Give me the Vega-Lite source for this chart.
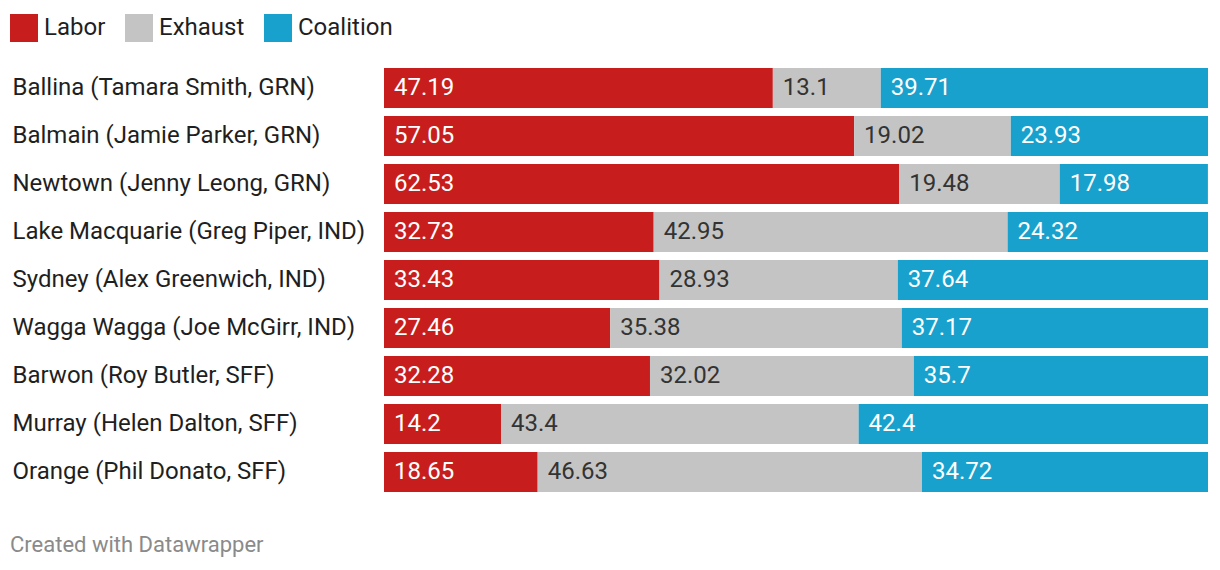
{
  "$schema": "https://vega.github.io/schema/vega-lite/v6.json",
  "autosize": {"type": "none"},
  "padding": {"left": 384, "top": 64, "right": 12, "bottom": 74},
  "width": 824,
  "height": 432,
  "background": "white",
  "config": {
    "view": {"stroke": null},
    "font": "Roboto"
  },
  "title": {
    "text": "Created with Datawrapper",
    "orient": "bottom",
    "anchor": "start",
    "frame": "bounds",
    "font": "Roboto",
    "fontSize": 22,
    "fontWeight": "normal",
    "color": "#8a8a8a",
    "baseline": "alphabetic",
    "offset": 56
  },
  "data": {
    "values": [
      {"seat": "Ballina (Tamara Smith, GRN)", "party": "Labor", "value": 47.19},
      {"seat": "Ballina (Tamara Smith, GRN)", "party": "Exhaust", "value": 13.1},
      {"seat": "Ballina (Tamara Smith, GRN)", "party": "Coalition", "value": 39.71},
      {"seat": "Balmain (Jamie Parker, GRN)", "party": "Labor", "value": 57.05},
      {"seat": "Balmain (Jamie Parker, GRN)", "party": "Exhaust", "value": 19.02},
      {"seat": "Balmain (Jamie Parker, GRN)", "party": "Coalition", "value": 23.93},
      {"seat": "Newtown (Jenny Leong, GRN)", "party": "Labor", "value": 62.53},
      {"seat": "Newtown (Jenny Leong, GRN)", "party": "Exhaust", "value": 19.48},
      {"seat": "Newtown (Jenny Leong, GRN)", "party": "Coalition", "value": 17.98},
      {"seat": "Lake Macquarie (Greg Piper, IND)", "party": "Labor", "value": 32.73},
      {"seat": "Lake Macquarie (Greg Piper, IND)", "party": "Exhaust", "value": 42.95},
      {"seat": "Lake Macquarie (Greg Piper, IND)", "party": "Coalition", "value": 24.32},
      {"seat": "Sydney (Alex Greenwich, IND)", "party": "Labor", "value": 33.43},
      {"seat": "Sydney (Alex Greenwich, IND)", "party": "Exhaust", "value": 28.93},
      {"seat": "Sydney (Alex Greenwich, IND)", "party": "Coalition", "value": 37.64},
      {"seat": "Wagga Wagga (Joe McGirr, IND)", "party": "Labor", "value": 27.46},
      {"seat": "Wagga Wagga (Joe McGirr, IND)", "party": "Exhaust", "value": 35.38},
      {"seat": "Wagga Wagga (Joe McGirr, IND)", "party": "Coalition", "value": 37.17},
      {"seat": "Barwon (Roy Butler, SFF)", "party": "Labor", "value": 32.28},
      {"seat": "Barwon (Roy Butler, SFF)", "party": "Exhaust", "value": 32.02},
      {"seat": "Barwon (Roy Butler, SFF)", "party": "Coalition", "value": 35.7},
      {"seat": "Murray (Helen Dalton, SFF)", "party": "Labor", "value": 14.2},
      {"seat": "Murray (Helen Dalton, SFF)", "party": "Exhaust", "value": 43.4},
      {"seat": "Murray (Helen Dalton, SFF)", "party": "Coalition", "value": 42.4},
      {"seat": "Orange (Phil Donato, SFF)", "party": "Labor", "value": 18.65},
      {"seat": "Orange (Phil Donato, SFF)", "party": "Exhaust", "value": 46.63},
      {"seat": "Orange (Phil Donato, SFF)", "party": "Coalition", "value": 34.72}
    ]
  },
  "transform": [
    {"stack": "value", "groupby": ["seat"], "sort": [{"field": "party", "order": "descending"}], "as": ["v0", "v1"]}
  ],
  "encoding": {
    "y": {
      "field": "seat",
      "type": "nominal",
      "sort": null,
      "scale": {"paddingInner": 0.1667, "paddingOuter": 0.0833},
      "axis": {
        "title": null,
        "domain": false,
        "ticks": false,
        "tickSize": 0,
        "labelAlign": "left",
        "labelPadding": 372,
        "labelFontSize": 24,
        "labelFont": "Roboto",
        "labelColor": "#1f1f1f",
        "labelLimit": 400
      }
    }
  },
  "layer": [
    {
      "mark": {"type": "bar"},
      "encoding": {
        "x": {"field": "v0", "type": "quantitative", "scale": {"domain": [0, 100], "nice": false}, "axis": null},
        "x2": {"field": "v1"},
        "color": {
          "field": "party",
          "type": "nominal",
          "scale": {"domain": ["Labor", "Exhaust", "Coalition"], "range": ["#c71e1d", "#c4c4c4", "#18a1cd"]},
          "legend": {
            "title": null,
            "orient": "none",
            "legendX": -374,
            "legendY": -50,
            "direction": "horizontal",
            "symbolType": "square",
            "symbolSize": 784,
            "symbolStrokeWidth": 0,
            "symbolOpacity": 1,
            "labelFontSize": 24,
            "labelFont": "Roboto",
            "labelColor": "#1f1f1f",
            "labelOffset": 6,
            "columnPadding": 19
          }
        }
      }
    },
    {
      "mark": {"type": "text", "align": "left", "baseline": "middle", "dx": 10, "fontSize": 24, "font": "Roboto"},
      "encoding": {
        "x": {"field": "v0", "type": "quantitative"},
        "text": {"field": "value", "type": "quantitative", "format": ".4~r"},
        "color": {
          "condition": {"test": "datum.party === 'Exhaust'", "value": "#333333"},
          "value": "#ffffff"
        }
      }
    }
  ]
}
